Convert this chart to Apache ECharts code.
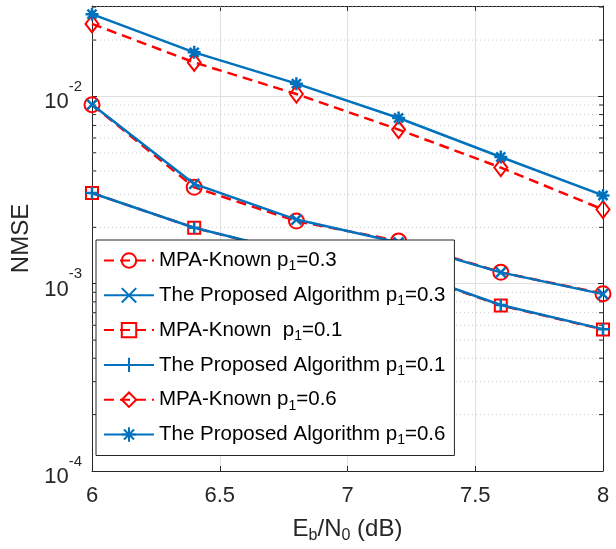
<!DOCTYPE html>
<html lang="en">
<head>
    <meta charset="utf-8">
    <title>NMSE vs Eb/N0</title>
    <style>
        html, body { margin: 0; padding: 0; background: #fff; }
        #main { width: 616px; height: 549px; }
    </style>
    <script src="https://cdn.jsdelivr.net/npm/echarts@6/dist/echarts.min.js"></script>
</head>
<body>
<div id="main"></div>
<script type="text/javascript">
    // Eb/N0 (dB)
    var snr = [6, 6.4, 6.8, 7.2, 7.6, 8];

    // NMSE values
    var mpaP03 = [0.00903, 0.00327, 0.00216, 0.00169, 0.00115, 0.000885];
    var propP03 = [0.00905, 0.00341, 0.00220, 0.00166, 0.00115, 0.000880];
    var mpaP01 = [0.00305, 0.00199, 0.00145, 0.00119, 0.000766, 0.000570];
    var propP01 = [0.00305, 0.00199, 0.00146, 0.00120, 0.000770, 0.000572];
    var mpaP06 = [0.0244, 0.0152, 0.0103, 0.00665, 0.00417, 0.00249];
    var propP06 = [0.0275, 0.0172, 0.0117, 0.00767, 0.00475, 0.00296];

    // axis ticks
    var xTicks = [6, 6.5, 7, 7.5, 8];
    var yMin = 1e-4, yMax = 0.0304;
    var yMinor = [2e-4, 3e-4, 4e-4, 5e-4, 6e-4, 7e-4, 8e-4, 9e-4,
                  2e-3, 3e-3, 4e-3, 5e-3, 6e-3, 7e-3, 8e-3, 9e-3,
                  2e-2, 3e-2];

    var RED = '#ff0000', BLUE = '#0072bd', AXIS = '#262626';

    var SYM_X = 'path://M0,0L10,10M10,0L0,10';
    var SYM_PLUS = 'path://M5,0L5,10M0,5L10,5';
    var SYM_STAR = 'path://M5,0L5,10M0,5L10,5M1.5,1.5L8.5,8.5M8.5,1.5L1.5,8.5';

    function pairs(ys) {
        return snr.map(function (x, i) { return [x, ys[i]]; });
    }

    function mpaSeries(name, ys, symbol, size) {
        return {
            name: name, type: 'line', data: pairs(ys),
            symbol: symbol, symbolSize: size, showAllSymbol: true,
            lineStyle: { color: RED, width: 2.5, type: [10, 6] },
            itemStyle: { color: 'rgba(255,255,255,0)', borderColor: RED, borderWidth: 2 },
            z: 3
        };
    }

    function propSeries(name, ys, symbol, size) {
        return {
            name: name, type: 'line', data: pairs(ys),
            symbol: symbol, symbolSize: size, showAllSymbol: true,
            lineStyle: { color: BLUE, width: 2.5 },
            itemStyle: { color: BLUE, borderColor: BLUE, borderWidth: 2.5 },
            z: 4
        };
    }

    var legendNames = {
        'MPA-Known p1=0.3': '{t|MPA-Known p}{s|1}{t|=0.3}',
        'The Proposed Algorithm p1=0.3': '{t|The Proposed Algorithm p}{s|1}{t|=0.3}',
        'MPA-Known  p1=0.1': '{t|MPA-Known  p}{s|1}{t|=0.1}',
        'The Proposed Algorithm p1=0.1': '{t|The Proposed Algorithm p}{s|1}{t|=0.1}',
        'MPA-Known p1=0.6': '{t|MPA-Known p}{s|1}{t|=0.6}',
        'The Proposed Algorithm p1=0.6': '{t|The Proposed Algorithm p}{s|1}{t|=0.6}'
    };

    var chart = echarts.init(document.getElementById('main'));

    var option = {
        animation: false,
        textStyle: { fontFamily: 'Liberation Sans' },
        grid: { left: 92, right: 13, top: 6, bottom: 77 },
        legend: {
            orient: 'vertical',
            left: 96, top: 240, z: 20,
            padding: [10, 9, 8, 7],
            itemWidth: 50, itemHeight: 18,
            itemGap: 11.3,
            backgroundColor: '#fff',
            borderColor: AXIS, borderWidth: 1,
            data: Object.keys(legendNames),
            formatter: function (n) { return legendNames[n]; },
            textStyle: {
                rich: {
                    t: { fontSize: 20.5, color: '#000', lineHeight: 26, fontFamily: 'Liberation Sans' },
                    s: { fontSize: 14, color: '#000', lineHeight: 12, verticalAlign: 'bottom', fontFamily: 'Liberation Sans' }
                }
            }
        },
        xAxis: [{
            type: 'value', min: 6, max: 8, interval: 0.5,
            name: '{t|E}{s|b}{t|/N}{s|0}{t| (dB)}',
            nameLocation: 'middle', nameGap: 43,
            nameTextStyle: {
                rich: {
                    t: { fontSize: 24, color: AXIS, lineHeight: 30 },
                    s: { fontSize: 16, color: AXIS, lineHeight: 14, verticalAlign: 'bottom' }
                }
            },
            axisLine: { lineStyle: { color: AXIS, width: 1 } },
            axisTick: { inside: true, length: 5, lineStyle: { color: AXIS } },
            axisLabel: { fontSize: 22, color: AXIS, margin: 14 },
            splitLine: { show: true, lineStyle: { color: '#dfdfdf', width: 1 } }
        }, {
            type: 'value', min: 6, max: 8, interval: 0.5, position: 'top',
            axisLine: { lineStyle: { color: AXIS, width: 1 } },
            axisTick: { inside: true, length: 5, lineStyle: { color: AXIS } },
            axisLabel: { show: false },
            splitLine: { show: false }
        }],
        yAxis: [{
            type: 'log', logBase: 10, min: yMin, max: yMax,
            name: 'NMSE', nameLocation: 'middle', nameGap: 55,
            nameTextStyle: { fontSize: 24, color: AXIS },
            axisLine: { lineStyle: { color: AXIS, width: 1 } },
            axisTick: { inside: true, length: 5, lineStyle: { color: AXIS } },
            axisLabel: {
                margin: 10, color: AXIS,
                formatter: function (v) {
                    var e = Math.round(Math.log10(v));
                    if (Math.abs(Math.log10(v) - e) > 1e-6) return '';
                    return '{b|10}{s|' + e + '}';
                },
                rich: {
                    b: { fontSize: 22, color: AXIS, lineHeight: 26, verticalAlign: 'bottom' },
                    s: { fontSize: 15, color: AXIS, lineHeight: 34, verticalAlign: 'top' }
                }
            },
            splitLine: { show: true, lineStyle: { color: '#dfdfdf', width: 1 } }
        }, {
            type: 'log', logBase: 10, min: yMin, max: yMax, position: 'right',
            axisLine: { lineStyle: { color: AXIS, width: 1 } },
            axisTick: { inside: true, length: 5, lineStyle: { color: AXIS } },
            axisLabel: { show: false },
            splitLine: { show: false }
        }],
        series: [
            {
                // minor log grid and minor ticks
                type: 'custom', silent: true, z: 1,
                data: yMinor.map(function (v) { return [6, v]; }),
                renderItem: function (params, api) {
                    var v = api.value(1);
                    var a = api.coord([6, v]);
                    var b = api.coord([8, v]);
                    var st = { stroke: AXIS, lineWidth: 1 };
                    return {
                        type: 'group',
                        children: [
                            { type: 'line', shape: { x1: a[0], y1: a[1], x2: b[0], y2: b[1] },
                              style: { stroke: '#cccccc', lineWidth: 1, lineDash: [1, 3] } },
                            { type: 'line', shape: { x1: a[0], y1: a[1], x2: a[0] + 4, y2: a[1] }, style: st },
                            { type: 'line', shape: { x1: b[0], y1: b[1], x2: b[0] - 4, y2: b[1] }, style: st }
                        ]
                    };
                }
            },
            mpaSeries('MPA-Known p1=0.3', mpaP03, 'circle', 15),
            propSeries('The Proposed Algorithm p1=0.3', propP03, SYM_X, 10),
            mpaSeries('MPA-Known  p1=0.1', mpaP01, 'rect', 12),
            propSeries('The Proposed Algorithm p1=0.1', propP01, SYM_PLUS, 12),
            mpaSeries('MPA-Known p1=0.6', mpaP06, 'diamond', [13, 17]),
            propSeries('The Proposed Algorithm p1=0.6', propP06, SYM_STAR, 13)
        ]
    };

    chart.setOption(option);
</script>
</body>
</html>
